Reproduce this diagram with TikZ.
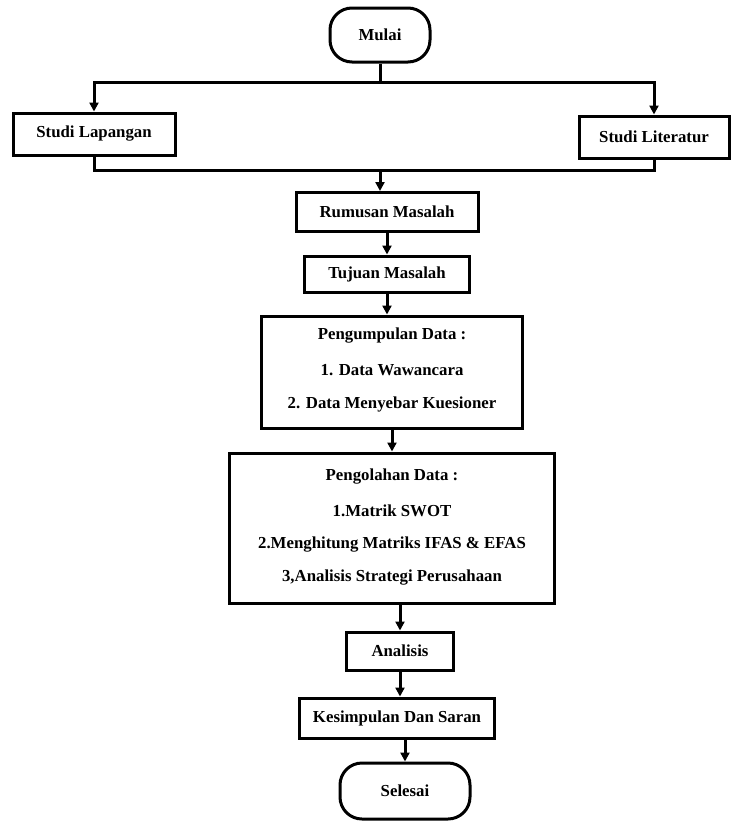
\documentclass[tikz,border=0pt]{standalone}
\usepackage{fontspec}
\setmainfont{Liberation Serif}
\usetikzlibrary{arrows.meta}
\begin{document}
\begin{tikzpicture}[x=1pt,y=-1pt,
  txt/.style={font=\bfseries\fontsize{16.8}{19}\selectfont,inner sep=0pt},
  base/.style={draw,line width=3pt,txt,align=center},
  stepbox/.style={base},
  term/.style={base,rounded corners=22pt},
  conn/.style={line width=3pt},
  arr/.style={conn,-{Triangle[length=9pt,width=9pt]}}]
\useasboundingbox (0,0) rectangle (731,830);
\node[term,minimum width=100pt,minimum height=54pt] (mulai) at (380,35) {Mulai};
\node[stepbox,minimum width=162pt,minimum height=42pt] (lap) at (94,134) {Studi Lapangan};
\node[stepbox,minimum width=150pt,minimum height=42pt] (lit) at (654,137) {Studi Literatur};
\node[stepbox,minimum width=182pt,minimum height=39pt] (rum) at (387,212) {Rumusan Masalah};
\node[stepbox,minimum width=165pt,minimum height=36pt] (tuj) at (387,274) {Tujuan Masalah};
\node[stepbox,minimum width=261pt,minimum height=112pt] (kump) at (392,372) {};
\node[txt] (k1) at (392,336) {Pengumpulan Data :};
\node[txt] (k2) at (392,370) {1. Data Wawancara};
\node[txt] (k3) at (392,404) {2. Data Menyebar Kuesioner};
\node[stepbox,minimum width=325pt,minimum height=150pt] (olah) at (392,528) {};
\node[txt] (o1) at (392,477) {Pengolahan Data :};
\node[txt] (o2) at (392,511) {1.Matrik SWOT};
\node[txt] (o3) at (392,545) {2.Menghitung Matriks IFAS \& EFAS};
\node[txt] (o4) at (392,578) {3,Analisis Strategi Perusahaan};
\node[stepbox,minimum width=107pt,minimum height=38pt] (anal) at (400,651) {Analisis};
\node[stepbox,minimum width=195pt,minimum height=40pt] (kes) at (397,718) {Kesimpulan Dan Saran};
\node[term,minimum width=130pt,minimum height=56pt] (sel) at (405,791) {Selesai};
\coordinate (j1) at (380,82);
\coordinate (j2) at (380,170);
\draw[conn] (mulai.south) -- (j1);
\draw[arr] (j1) -| (lap.north);
\draw[arr] (j1) -| (lit.north);
\draw[conn] (lap.south) |- (j2);
\draw[conn] (lit.south) |- (j2);
\draw[arr] (j2) -- (rum.north -| j2);
\draw[arr] (rum.south) -- (tuj.north);
\draw[arr] (tuj.south) -- (kump.north -| tuj);
\draw[arr] (kump.south) -- (olah.north);
\draw[arr] (olah.south -| anal) -- (anal.north);
\draw[arr] (anal.south) -- (kes.north -| anal);
\draw[arr] (kes.south -| sel) -- (sel.north);
\end{tikzpicture}
\end{document}
